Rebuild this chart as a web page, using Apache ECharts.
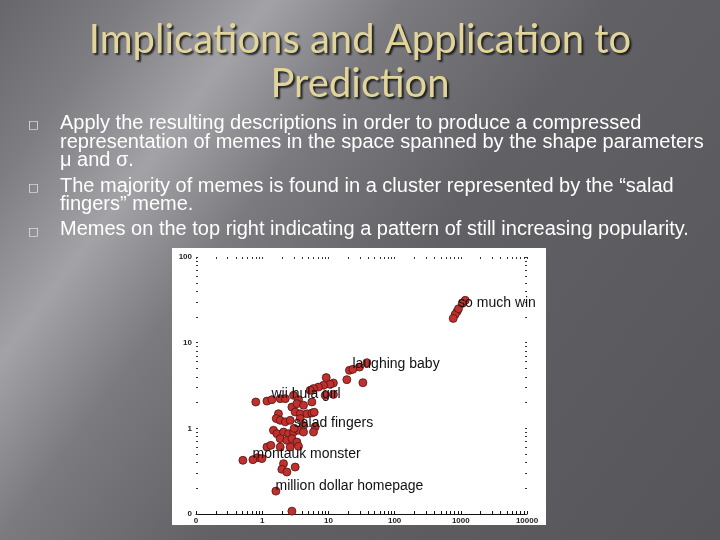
<!DOCTYPE html>
<html>
<head>
<meta charset="utf-8">
<script src="https://cdn.jsdelivr.net/npm/echarts@6/dist/echarts.min.js"></script>
<style>
html,body{margin:0;padding:0;width:720px;height:540px;overflow:hidden;}
#c{width:720px;height:540px;}
</style>
</head>
<body>
<div id="c"></div>
<script>
// ---- data ----
var titleLines = ['Implications and Application to', 'Prediction'];
var bullets = [
  ['Apply the resulting descriptions in order to produce a compressed',
   'representation of memes in the space spanned by the shape parameters',
   'μ and σ.'],
  ['The majority of memes is found in a cluster represented by the “salad',
   'fingers” meme.'],
  ['Memes on the top right indicating a pattern of still increasing popularity.']
];
var xTickLabels = [0.1, 1, 10, 100, 1000, 10000];
var yTickLabels = [0.1, 1, 10, 100];
// all memes (x, y)
var pointX = [1165,1050,883,823,768, 20.8,29.5,38.2,
  9.27,19.0,33.2,11.9,10.6,8.43,7.08,5.96,5.31,8.95,11.9,
  0.80,1.18,1.87,2.23,2.97,3.53,5.63,
  2.81,3.34,4.21,3.15,3.75,4.73,5.63,6.10,1.76,
  1.63,1.87,2.23,2.65,3.75,4.21,6.32,5.96,
  1.48,1.67,2.10,2.50,2.97,3.53,4.21,
  1.87,2.36,2.81,3.34,1.87,2.65,3.53,1.18,1.35,
  0.511,0.849,0.99,2.10,1.98,2.36,3.15,
  2.81];
var pointY = [31.2,28.7,23.2,21.4,19.2, 4.75,5.19,5.84,
  3.91,3.70,3.41,3.38,3.26,3.18,3.03,2.91,2.78,2.43,2.49,
  2.03,2.08,2.22,2.22,2.43,2.16,2.03,
  1.77,1.94,1.86,1.55,1.48,1.48,1.51,1.54,1.48,
  1.30,1.24,1.19,1.24,1.30,1.08,1.04,0.905,
  0.948,0.867,0.905,0.867,0.905,0.948,0.905,
  0.758,0.724,0.758,0.692,0.605,0.605,0.617,0.605,0.633,
  0.423,0.455,0.443,0.387,0.332,0.309,0.353,
  0.108];
// named memes
var namedMemes = ['so much win','laughing baby','wii hula girl','salad fingers','montauk monster','million dollar homepage'];
var namedX = [923, 23.4, 1.40, 3.04, 0.724, 1.61];
var namedY = [24.9, 4.88, 2.16, 1.0, 0.431, 0.185];

// ---- build ----
function logMinors(lo, hi){
  var out=[];
  for (var d=lo; d<hi; d*=10){
    for (var k=1;k<10;k++){ out.push(+(d*k).toPrecision(3)); }
  }
  out.push(hi);
  return out;
}
var xMinor = logMinors(0.1, 10000);
var yMinor = logMinors(0.1, 100);

var pts = pointX.map(function(x,i){return [x, pointY[i]];});
var named = namedMemes.map(function(n,i){return {name:n, value:[namedX[i], namedY[i]]};});

var chart = echarts.init(document.getElementById('c'), null, {renderer:'canvas'});

function fmt(v){ return v < 1 ? '0' : String(Math.round(v)); }

var graphics = [
  {type:'rect', z:-10, shape:{x:0,y:0,width:720,height:540},
   style:{fill:new echarts.graphic.LinearGradient(0,0,1,1,[
     {offset:0,color:'#66666b'},
     {offset:0.12,color:'#7d7d82'},
     {offset:0.24,color:'#a3a3a7'},
     {offset:0.36,color:'#7a7a7f'},
     {offset:0.55,color:'#606065'},
     {offset:1,color:'#55555a'}])}},
  {type:'rect', z:-5, shape:{x:172,y:248,width:374,height:277}, style:{fill:'#ffffff'}}
];
var lineYs = [[123.5,142,160.5],[186,204.5],[229.5]];
var boxYs = [125.5,188.5,232];
bullets.forEach(function(lines,bi){
  graphics.push({type:'text', z:5, x:28, y:boxYs[bi],
    style:{text:'□', fill:'#f4f4f4', font:'11px "DejaVu Sans"', verticalAlign:'middle', align:'left'}});
  lines.forEach(function(t,li){
    graphics.push({type:'text', z:5, x:60, y:lineYs[bi][li],
      style:{text:t, fill:'#ffffff', font:'20px "Liberation Sans"', verticalAlign:'middle', align:'left'}});
  });
});

var option = {
  animation:false,
  title:{
    text: titleLines.join('\n'), left:'center', top:13,
    textStyle:{fontFamily:'Lato', fontSize:40, fontWeight:'normal', color:'#e2d59b', lineHeight:44,
      textShadowColor:'rgba(20,20,20,0.9)', textShadowBlur:2, textShadowOffsetX:2, textShadowOffsetY:2}
  },
  graphic: graphics,
  grid:{left:196, right:193, top:257, bottom:26, containLabel:false},
  xAxis:[
    {type:'log', logBase:10, min:0.1, max:10000, position:'bottom',
     axisLine:{show:true, lineStyle:{color:'#111', width:1}},
     axisTick:{show:true, inside:true, length:3, customValues:xMinor, lineStyle:{color:'#111'}},
     axisLabel:{show:true, customValues:xTickLabels, formatter:fmt, margin:3, fontSize:8, fontWeight:'bold', color:'#222', fontFamily:'Liberation Sans'},
     splitLine:{show:false}},
    {type:'log', logBase:10, min:0.1, max:10000, position:'top',
     axisLine:{show:false},
     axisTick:{show:true, inside:true, length:2, customValues:xMinor, lineStyle:{color:'#333'}},
     axisLabel:{show:false}, splitLine:{show:false}}
  ],
  yAxis:[
    {type:'log', logBase:10, min:0.1, max:100, position:'left',
     axisLine:{show:false},
     axisTick:{show:true, inside:true, length:2, customValues:yMinor, lineStyle:{color:'#333'}},
     axisLabel:{show:true, customValues:yTickLabels, formatter:fmt, margin:4, fontSize:8, fontWeight:'bold', color:'#222', fontFamily:'Liberation Sans'},
     splitLine:{show:false}},
    {type:'log', logBase:10, min:0.1, max:100, position:'right',
     axisLine:{show:false},
     axisTick:{show:true, inside:true, length:2, customValues:yMinor, lineStyle:{color:'#333'}},
     axisLabel:{show:false}, splitLine:{show:false}}
  ],
  series:[
    {type:'scatter', xAxisIndex:0, yAxisIndex:0, data:pts, symbolSize:8, z:3,
     itemStyle:{color:'#c2302e', borderColor:'#4a1414', borderWidth:0.8, opacity:1}},
    {type:'scatter', xAxisIndex:0, yAxisIndex:0, data:named, symbolSize:8, z:4,
     itemStyle:{color:'#c2302e', borderColor:'#4a1414', borderWidth:0.8, opacity:1},
     label:{show:true, formatter:'{b}', position:[4,6], align:'left', verticalAlign:'bottom',
       fontFamily:'Liberation Sans', fontSize:14, color:'#111'}}
  ]
};
chart.setOption(option);
</script>
</body>
</html>
